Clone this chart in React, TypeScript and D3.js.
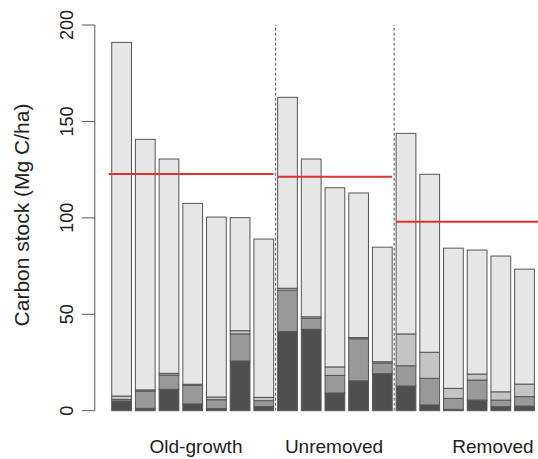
import React from "react";
import * as d3 from "d3";

// plots grouped by stand type
const groups = ["Old-growth", "Unremoved", "Removed"];
const groupOf = [0, 0, 0, 0, 0, 0, 0, 1, 1, 1, 1, 1, 2, 2, 2, 2, 2, 2];

// carbon pools per plot (Mg C/ha), bottom to top
const pool1 = [5.0, 1.2, 11.1, 3.5, 1.1, 25.8, 2.1, 41.0, 42.2, 9.2, 15.5, 19.2, 12.8, 3.0, 0.7, 5.5, 2.1, 2.4];
const pool2 = [0.8, 9.0, 7.4, 9.7, 4.6, 14.0, 3.1, 21.5, 5.7, 9.1, 21.8, 5.5, 10.5, 13.8, 5.7, 10.4, 3.4, 4.9];
const pool3 = [1.8, 0.6, 0.9, 0.5, 1.4, 1.7, 1.7, 1.0, 0.8, 4.4, 0.6, 0.7, 16.5, 13.5, 5.2, 3.1, 4.3, 6.5];
const pool4 = [183.4, 129.9, 111.1, 93.8, 93.3, 58.6, 82.1, 99.0, 81.8, 92.9, 75.0, 59.4, 104.0, 92.3, 72.7, 64.3, 70.4, 59.6];

const yTicks = [0, 50, 100, 150, 200];
const keys = ["p1", "p2", "p3", "p4"];
const fills = ["#4f4f4f", "#999999", "#c4c4c4", "#e6e6e6"];

const W = 538;
const H = 459;

export default function App() {
  const rows = pool1.map((v, i) => ({ i, p1: v, p2: pool2[i], p3: pool3[i], p4: pool4[i] }));
  const layers = d3.stack().keys(keys)(rows as any);
  const totals = rows.map(r => r.p1 + r.p2 + r.p3 + r.p4);

  // barplot-like units: width 1, space 0.2
  const left = (i: number) => 0.2 + i * 1.2;
  const x = d3.scaleLinear().domain([-0.656, 22.456]).range([94.8, 551.3]);
  const y = d3.scaleLinear().domain([0, 200]).range([410.7, 25]);

  const groupIdx = groups.map((_, g) => groupOf.map((gg, i) => (gg === g ? i : -1)).filter(i => i >= 0));
  const means = groupIdx.map(ids => d3.mean(ids, i => totals[i]) as number);
  const meanSeg = [
    [0.05, left(6) + 1],
    [left(7), left(11) + 1],
    [left(12), 23],
  ];
  const dividers = [left(6) + 1.1, left(11) + 1.1];
  const labelX = [196, 334, 493];

  const font = "'Liberation Sans', Arial, sans-serif";

  return (
    <svg width={W} height={H} style={{ position: "absolute", left: 0, top: 0, background: "#fff" }} fontFamily={font}>
      {layers.map((layer, k) => (
        <g key={k}>
          {layer.map((d, i) => (
            <rect
              key={i}
              x={x(left(i))}
              width={x(left(i) + 1) - x(left(i))}
              y={y(d[1])}
              height={y(d[0]) - y(d[1])}
              fill={fills[k]}
              stroke="#555"
              strokeWidth={1}
            />
          ))}
        </g>
      ))}

      {dividers.map((d, i) => (
        <line key={i} x1={x(d)} x2={x(d)} y1={y(0)} y2={y(200)} stroke="#555" strokeDasharray="3,2" />
      ))}

      {means.map((m, g) => (
        <line key={g} x1={x(meanSeg[g][0])} x2={x(meanSeg[g][1])} y1={y(m)} y2={y(m)} stroke="#e0302f" strokeWidth={2} />
      ))}

      {/* y axis */}
      <line x1={94.8} x2={94.8} y1={y(0)} y2={y(200)} stroke="#555" />
      {yTicks.map(t => (
        <g key={t}>
          <line x1={82} x2={94.8} y1={y(t)} y2={y(t)} stroke="#555" />
          <text transform={`translate(73,${y(t)}) rotate(-90)`} textAnchor="middle" fontSize={18} fill="#222">
            {t}
          </text>
        </g>
      ))}
      <text transform={`translate(29,215) rotate(-90)`} textAnchor="middle" fontSize={21} fill="#222">
        Carbon stock (Mg C/ha)
      </text>

      {groups.map((g, i) => (
        <text key={g} x={labelX[i]} y={453} textAnchor="middle" fontSize={19} fill="#222">
          {g}
        </text>
      ))}
    </svg>
  );
}
